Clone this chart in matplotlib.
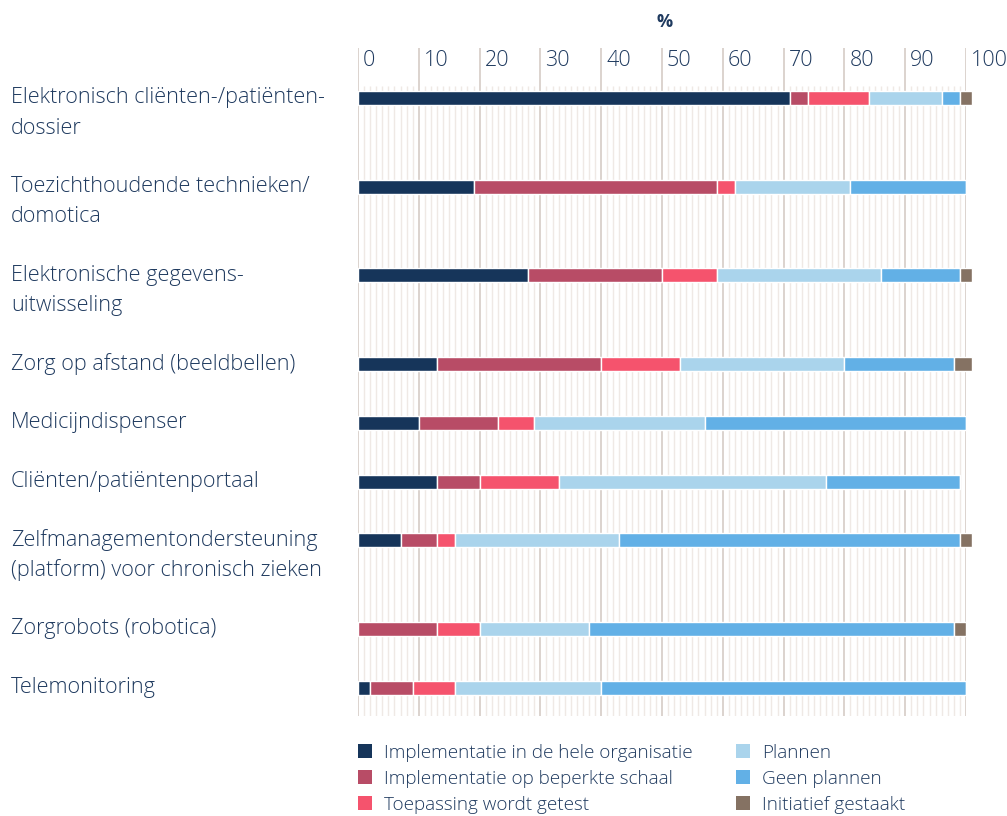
import matplotlib
matplotlib.use("Agg")
import matplotlib.pyplot as plt
from matplotlib.patches import Patch
from matplotlib.transforms import blended_transform_factory

categories = [
    "Elektronisch cliënten-/patiënten-\ndossier",
    "Toezichthoudende technieken/\ndomotica",
    "Elektronische gegevens-\nuitwisseling",
    "Zorg op afstand (beeldbellen)",
    "Medicijndispenser",
    "Cliënten/patiëntenportaal",
    "Zelfmanagementondersteuning\n(platform) voor chronisch zieken",
    "Zorgrobots (robotica)",
    "Telemonitoring",
]
series_names = [
    "Implementatie in de hele organisatie",
    "Implementatie op beperkte schaal",
    "Toepassing wordt getest",
    "Plannen",
    "Geen plannen",
    "Initiatief gestaakt",
]
impl_hele = [71, 19, 28, 13, 10, 13, 7, 0, 2]
impl_beperkt = [3, 40, 22, 27, 13, 7, 6, 13, 7]
getest = [10, 3, 9, 13, 6, 13, 3, 7, 7]
plannen = [12, 19, 27, 27, 28, 44, 27, 18, 24]
geen_plannen = [3, 19, 13, 18, 43, 22, 56, 60, 60]
gestaakt = [2, 0, 2, 3, 0, 0, 2, 2, 0]
series = [impl_hele, impl_beperkt, getest, plannen, geen_plannen, gestaakt]
colors = ["#16355a", "#b84c66", "#f5536d", "#aad4ec", "#62b0e6", "#857263"]
xticks = [0, 10, 20, 30, 40, 50, 60, 70, 80, 90, 100]

TXT = "#1f3a5f"
FONT = ["Open Sans", "DejaVu Sans"]
plt.rcParams["font.family"] = FONT
plt.rcParams["font.weight"] = "light"

W, H = 1007, 816
fig = plt.figure(figsize=(W / 100, H / 100), dpi=100)
top_px, bot_px, first_px = 48, 716, 98
ax = fig.add_axes([358 / W, 1 - bot_px / H, (966 - 358) / W, (bot_px - top_px) / H])
ax.set_xlim(0, 100)
ax.set_ylim(bot_px - first_px, top_px - first_px)
ax.axis("off")

# row positions from number of label lines
ypos = []
y = 0.0
for i, c in enumerate(categories):
    ypos.append(y)
    y += 58.7 + 30 * (c.count("\n"))

# grid
ymin, ymax = bot_px - first_px, top_px - first_px
for v in range(0, 101):
    if v % 10 == 0:
        ax.vlines(v, ymin, ymax, color="#dcd3ce", lw=1.4, zorder=0)
    else:
        ax.vlines(v, ymin, -12, color="#efe9e5", lw=1.0, zorder=0)

# bars
left = [0] * len(categories)
for vals, col in zip(series, colors):
    ax.barh(ypos, vals, left=left, height=14, color=col, edgecolor="white",
            linewidth=1, zorder=3, clip_on=False)
    left = [l + v for l, v in zip(left, vals)]

# tick labels
for t in xticks:
    ax.text(t + 0.8, 61 - first_px, str(t), ha="left", va="center",
            fontsize=15.5, color=TXT)

fig.text(665 / W, 1 - 22 / H, "%", ha="center", va="center", fontsize=13,
         fontweight="bold", color=TXT)

# category labels
tr = blended_transform_factory(fig.transFigure, ax.transData)
for yc, c in zip(ypos, categories):
    for k, line in enumerate(c.split("\n")):
        ax.text(11 / W, yc + 30 * k, line, transform=tr, ha="left",
                va="center", fontsize=15.6, color=TXT)

handles = [Patch(facecolor=c, edgecolor="none") for c in colors]
leg = fig.legend(handles, series_names, loc="upper left", ncol=2,
                 bbox_to_anchor=(350 / W, 1 - 736 / H), frameon=False,
                 fontsize=13.6, handlelength=0.78, handleheight=0.78,
                 handletextpad=0.6, columnspacing=2.3, labelspacing=0.43,
                 borderaxespad=0)
for t in leg.get_texts():
    t.set_color(TXT)

fig.savefig("out.png", dpi=100)
